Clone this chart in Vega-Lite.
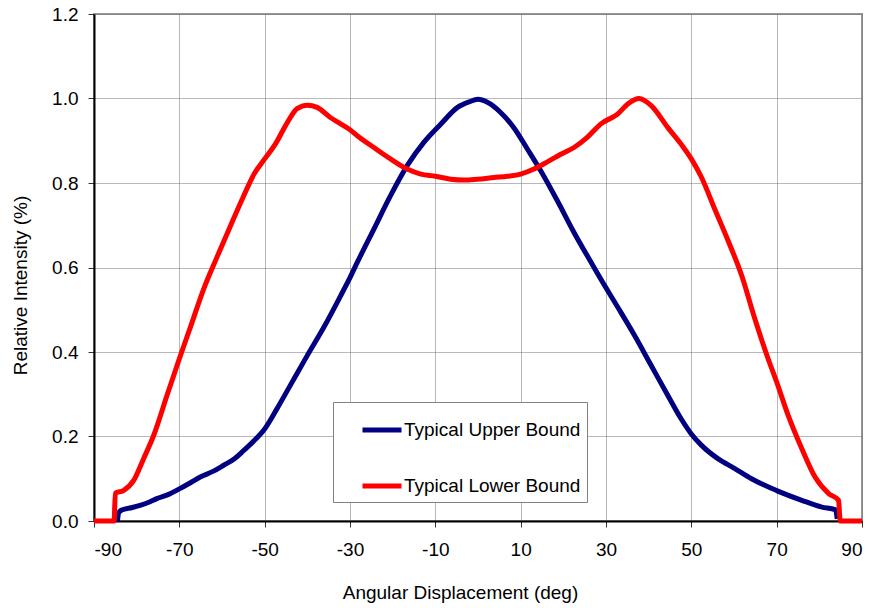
{
  "$schema": "https://vega.github.io/schema/vega-lite/v6.json",
  "width": 768,
  "height": 507,
  "autosize": {"type": "none"},
  "padding": {"left": 94, "top": 14, "right": 8, "bottom": 87},
  "background": "white",
  "config": {
    "font": "Liberation Sans",
    "view": {"stroke": "#999999", "strokeWidth": 2},
    "axis": {
      "labelFont": "Liberation Sans",
      "labelFontSize": 19,
      "labelColor": "#000000",
      "titleFont": "Liberation Sans",
      "titleFontSize": 19,
      "titleFontWeight": "normal",
      "titleColor": "#000000",
      "domainColor": "#000000",
      "domainWidth": 2,
      "tickColor": "#333333",
      "tickSize": 6,
      "tickWidth": 1,
      "gridColor": "#707070",
      "gridDash": [1, 1],
      "gridWidth": 1,
      "gridOpacity": 1
    },
    "legend": {
      "labelFont": "Liberation Sans",
      "labelFontSize": 19,
      "labelColor": "#000000",
      "labelLimit": 400
    }
  },
  "data": {
    "values": [
      {"a": -84.5, "v": 0.0, "s": "Typical Upper Bound"},
      {"a": -84.2, "v": 0.02, "s": "Typical Upper Bound"},
      {"a": -83.5, "v": 0.026, "s": "Typical Upper Bound"},
      {"a": -81.0, "v": 0.032, "s": "Typical Upper Bound"},
      {"a": -79.2, "v": 0.037, "s": "Typical Upper Bound"},
      {"a": -77.0, "v": 0.045, "s": "Typical Upper Bound"},
      {"a": -75.3, "v": 0.053, "s": "Typical Upper Bound"},
      {"a": -72.5, "v": 0.063, "s": "Typical Upper Bound"},
      {"a": -70.0, "v": 0.076, "s": "Typical Upper Bound"},
      {"a": -67.5, "v": 0.09, "s": "Typical Upper Bound"},
      {"a": -65.1, "v": 0.104, "s": "Typical Upper Bound"},
      {"a": -62.0, "v": 0.118, "s": "Typical Upper Bound"},
      {"a": -59.6, "v": 0.132, "s": "Typical Upper Bound"},
      {"a": -57.0, "v": 0.148, "s": "Typical Upper Bound"},
      {"a": -54.9, "v": 0.167, "s": "Typical Upper Bound"},
      {"a": -52.5, "v": 0.19, "s": "Typical Upper Bound"},
      {"a": -50.0, "v": 0.218, "s": "Typical Upper Bound"},
      {"a": -47.1, "v": 0.266, "s": "Typical Upper Bound"},
      {"a": -44.0, "v": 0.321, "s": "Typical Upper Bound"},
      {"a": -40.0, "v": 0.392, "s": "Typical Upper Bound"},
      {"a": -36.1, "v": 0.459, "s": "Typical Upper Bound"},
      {"a": -32.2, "v": 0.533, "s": "Typical Upper Bound"},
      {"a": -30.0, "v": 0.576, "s": "Typical Upper Bound"},
      {"a": -28.3, "v": 0.612, "s": "Typical Upper Bound"},
      {"a": -24.4, "v": 0.691, "s": "Typical Upper Bound"},
      {"a": -20.5, "v": 0.77, "s": "Typical Upper Bound"},
      {"a": -16.6, "v": 0.841, "s": "Typical Upper Bound"},
      {"a": -12.7, "v": 0.896, "s": "Typical Upper Bound"},
      {"a": -8.75, "v": 0.939, "s": "Typical Upper Bound"},
      {"a": -4.8, "v": 0.979, "s": "Typical Upper Bound"},
      {"a": -2.1, "v": 0.992, "s": "Typical Upper Bound"},
      {"a": 0.0, "v": 0.998, "s": "Typical Upper Bound"},
      {"a": 2.2, "v": 0.991, "s": "Typical Upper Bound"},
      {"a": 5.3, "v": 0.967, "s": "Typical Upper Bound"},
      {"a": 8.4, "v": 0.931, "s": "Typical Upper Bound"},
      {"a": 11.6, "v": 0.88, "s": "Typical Upper Bound"},
      {"a": 14.7, "v": 0.829, "s": "Typical Upper Bound"},
      {"a": 18.6, "v": 0.758, "s": "Typical Upper Bound"},
      {"a": 22.5, "v": 0.683, "s": "Typical Upper Bound"},
      {"a": 26.4, "v": 0.614, "s": "Typical Upper Bound"},
      {"a": 28.8, "v": 0.572, "s": "Typical Upper Bound"},
      {"a": 32.7, "v": 0.507, "s": "Typical Upper Bound"},
      {"a": 36.7, "v": 0.439, "s": "Typical Upper Bound"},
      {"a": 40.6, "v": 0.368, "s": "Typical Upper Bound"},
      {"a": 44.5, "v": 0.297, "s": "Typical Upper Bound"},
      {"a": 47.6, "v": 0.242, "s": "Typical Upper Bound"},
      {"a": 50.0, "v": 0.206, "s": "Typical Upper Bound"},
      {"a": 52.4, "v": 0.179, "s": "Typical Upper Bound"},
      {"a": 56.3, "v": 0.147, "s": "Typical Upper Bound"},
      {"a": 60.2, "v": 0.124, "s": "Typical Upper Bound"},
      {"a": 64.1, "v": 0.1, "s": "Typical Upper Bound"},
      {"a": 70.0, "v": 0.072, "s": "Typical Upper Bound"},
      {"a": 75.9, "v": 0.049, "s": "Typical Upper Bound"},
      {"a": 80.6, "v": 0.033, "s": "Typical Upper Bound"},
      {"a": 83.7, "v": 0.027, "s": "Typical Upper Bound"},
      {"a": 83.9, "v": 0.024, "s": "Typical Upper Bound"},
      {"a": 84.2, "v": 0.005, "s": "Typical Upper Bound"},
      {"a": -90.0, "v": 0.0, "s": "Typical Lower Bound"},
      {"a": -85.3, "v": 0.0, "s": "Typical Lower Bound"},
      {"a": -85.0, "v": 0.066, "s": "Typical Lower Bound"},
      {"a": -83.1, "v": 0.072, "s": "Typical Lower Bound"},
      {"a": -80.7, "v": 0.096, "s": "Typical Lower Bound"},
      {"a": -78.4, "v": 0.147, "s": "Typical Lower Bound"},
      {"a": -76.0, "v": 0.203, "s": "Typical Lower Bound"},
      {"a": -72.9, "v": 0.297, "s": "Typical Lower Bound"},
      {"a": -70.0, "v": 0.384, "s": "Typical Lower Bound"},
      {"a": -67.4, "v": 0.459, "s": "Typical Lower Bound"},
      {"a": -64.3, "v": 0.549, "s": "Typical Lower Bound"},
      {"a": -61.2, "v": 0.624, "s": "Typical Lower Bound"},
      {"a": -58.0, "v": 0.699, "s": "Typical Lower Bound"},
      {"a": -54.9, "v": 0.77, "s": "Typical Lower Bound"},
      {"a": -52.5, "v": 0.821, "s": "Typical Lower Bound"},
      {"a": -50.0, "v": 0.857, "s": "Typical Lower Bound"},
      {"a": -47.5, "v": 0.892, "s": "Typical Lower Bound"},
      {"a": -44.7, "v": 0.943, "s": "Typical Lower Bound"},
      {"a": -42.4, "v": 0.976, "s": "Typical Lower Bound"},
      {"a": -40.0, "v": 0.984, "s": "Typical Lower Bound"},
      {"a": -37.7, "v": 0.979, "s": "Typical Lower Bound"},
      {"a": -34.6, "v": 0.955, "s": "Typical Lower Bound"},
      {"a": -32.2, "v": 0.94, "s": "Typical Lower Bound"},
      {"a": -30.0, "v": 0.926, "s": "Typical Lower Bound"},
      {"a": -28.3, "v": 0.912, "s": "Typical Lower Bound"},
      {"a": -24.4, "v": 0.884, "s": "Typical Lower Bound"},
      {"a": -20.5, "v": 0.857, "s": "Typical Lower Bound"},
      {"a": -16.6, "v": 0.833, "s": "Typical Lower Bound"},
      {"a": -13.4, "v": 0.821, "s": "Typical Lower Bound"},
      {"a": -10.0, "v": 0.816, "s": "Typical Lower Bound"},
      {"a": -6.4, "v": 0.809, "s": "Typical Lower Bound"},
      {"a": -3.3, "v": 0.807, "s": "Typical Lower Bound"},
      {"a": -0.2, "v": 0.809, "s": "Typical Lower Bound"},
      {"a": 3.75, "v": 0.813, "s": "Typical Lower Bound"},
      {"a": 6.9, "v": 0.816, "s": "Typical Lower Bound"},
      {"a": 10.0, "v": 0.821, "s": "Typical Lower Bound"},
      {"a": 13.1, "v": 0.833, "s": "Typical Lower Bound"},
      {"a": 16.25, "v": 0.85, "s": "Typical Lower Bound"},
      {"a": 19.4, "v": 0.868, "s": "Typical Lower Bound"},
      {"a": 22.5, "v": 0.884, "s": "Typical Lower Bound"},
      {"a": 25.6, "v": 0.908, "s": "Typical Lower Bound"},
      {"a": 28.8, "v": 0.94, "s": "Typical Lower Bound"},
      {"a": 32.7, "v": 0.963, "s": "Typical Lower Bound"},
      {"a": 35.1, "v": 0.987, "s": "Typical Lower Bound"},
      {"a": 37.8, "v": 1.0, "s": "Typical Lower Bound"},
      {"a": 40.6, "v": 0.983, "s": "Typical Lower Bound"},
      {"a": 44.5, "v": 0.931, "s": "Typical Lower Bound"},
      {"a": 47.6, "v": 0.892, "s": "Typical Lower Bound"},
      {"a": 50.0, "v": 0.857, "s": "Typical Lower Bound"},
      {"a": 52.4, "v": 0.813, "s": "Typical Lower Bound"},
      {"a": 55.5, "v": 0.738, "s": "Typical Lower Bound"},
      {"a": 58.6, "v": 0.664, "s": "Typical Lower Bound"},
      {"a": 61.8, "v": 0.581, "s": "Typical Lower Bound"},
      {"a": 64.9, "v": 0.478, "s": "Typical Lower Bound"},
      {"a": 68.0, "v": 0.384, "s": "Typical Lower Bound"},
      {"a": 70.0, "v": 0.329, "s": "Typical Lower Bound"},
      {"a": 72.7, "v": 0.25, "s": "Typical Lower Bound"},
      {"a": 75.9, "v": 0.171, "s": "Typical Lower Bound"},
      {"a": 79.0, "v": 0.104, "s": "Typical Lower Bound"},
      {"a": 82.2, "v": 0.065, "s": "Typical Lower Bound"},
      {"a": 84.5, "v": 0.049, "s": "Typical Lower Bound"},
      {"a": 84.9, "v": 0.0, "s": "Typical Lower Bound"},
      {"a": 90.0, "v": 0.0, "s": "Typical Lower Bound"}
    ]
  },
  "encoding": {
    "x": {
      "field": "a",
      "type": "quantitative",
      "scale": {"domain": [-90, 90], "nice": false, "zero": false},
      "axis": {
        "title": "Angular Displacement (deg)",
        "values": [-90, -70, -50, -30, -10, 10, 30, 50, 70, 90],
        "labelExpr": "datum.value < 0 ? '-' + abs(datum.value) : '' + datum.value",
        "labelPadding": 13,
        "titleX": 366,
        "titleY": 71,
        "titleBaseline": "middle",
        "titleAlign": "center"
      }
    },
    "y": {
      "field": "v",
      "type": "quantitative",
      "scale": {"domain": [0, 1.2], "nice": false},
      "axis": {
        "title": "Relative Intensity (%)",
        "values": [0, 0.2, 0.4, 0.6, 0.8, 1.0, 1.2],
        "format": ".1f",
        "labelPadding": 10,
        "titleX": -74,
        "titleY": 271,
        "titleAngle": -90,
        "titleBaseline": "middle",
        "titleAlign": "center"
      }
    },
    "color": {
      "field": "s",
      "type": "nominal",
      "scale": {
        "domain": ["Typical Upper Bound", "Typical Lower Bound"],
        "range": ["#000080", "#FF0000"]
      },
      "legend": {
        "title": null,
        "orient": "none",
        "legendX": 239,
        "legendY": 388,
        "padding": 6,
        "fillColor": "white",
        "strokeColor": "#808080",
        "symbolType": "stroke",
        "symbolSize": 1521,
        "symbolStrokeWidth": 5,
        "labelOffset": 0,
        "symbolOffset": 21,
        "rowPadding": 24
      }
    }
  },
  "layer": [
    {
      "transform": [{"filter": "datum.s === 'Typical Upper Bound'"}],
      "mark": {"type": "line", "strokeWidth": 5, "strokeJoin": "round", "interpolate": "monotone"}
    },
    {
      "transform": [{"filter": "datum.s === 'Typical Lower Bound'"}],
      "mark": {"type": "line", "strokeWidth": 5, "strokeJoin": "round", "interpolate": "monotone"}
    }
  ]
}
